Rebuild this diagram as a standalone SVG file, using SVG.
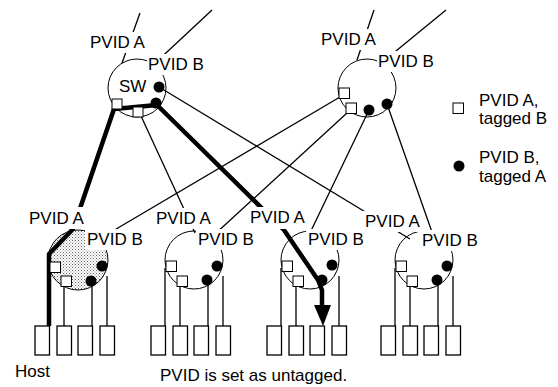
<svg xmlns="http://www.w3.org/2000/svg" width="558" height="387" viewBox="0 0 558 387">
<defs>
<pattern id="stip" width="3" height="3" patternUnits="userSpaceOnUse">
<rect width="3" height="3" fill="#fff"/>
<rect x="0" y="0" width="1" height="1" fill="#666"/>
<rect x="1.5" y="1.5" width="1" height="1" fill="#888"/>
</pattern>
<marker id="ah" viewBox="0 0 10 10" refX="10" refY="5" markerWidth="4" markerHeight="4" orient="auto" markerUnits="strokeWidth">
<path d="M0,0 L10,5 L0,10 z" fill="#000"/>
</marker>
</defs>
<style>
.sw{fill:none;stroke:#000;stroke-width:1}
.ln{fill:none;stroke:#000;stroke-width:1.3}
.tk{fill:none;stroke:#000;stroke-width:4.5;stroke-linejoin:round}
.sq{fill:#fff;stroke:#000;stroke-width:1}
.dt{fill:#000}
.hb{fill:#fff;stroke:#000;stroke-width:1.3}
.lb{fill:#fff}
text{font-family:"Liberation Sans",Arial,Helvetica,sans-serif;font-size:17px;fill:#000}
</style>
<rect width="558" height="387" fill="#fff"/>
<circle cx="78" cy="260" r="30" fill="url(#stip)"/>
<g id="connectors">
<line class="ln" x1="140" y1="13" x2="122" y2="63"/>
<line class="ln" x1="212" y1="10" x2="152" y2="66"/>
<line class="ln" x1="374" y1="10" x2="357" y2="60"/>
<line class="ln" x1="446" y1="10" x2="385" y2="60"/>
<line class="ln" x1="141" y1="116" x2="195" y2="233"/>
<line class="ln" x1="159" y1="87" x2="410" y2="239"/>
<line class="ln" x1="340" y1="97" x2="106" y2="235"/>
<line class="ln" x1="347" y1="113" x2="214" y2="235"/>
<line class="ln" x1="369" y1="110" x2="309" y2="235"/>
<line class="ln" x1="387" y1="104" x2="433" y2="235"/>
<path class="tk" d="M49,326 L49,254 L73,229 L114,109 L157,105 L284,230 L318,280 L322,290 L322,306"/>
<polygon points="314,305 331,305 323,326" fill="#000"/>
</g>
<g id="sw-top-left">
<circle class="sw" cx="137" cy="88" r="29"/>
<rect class="sq" x="112" y="99" width="10" height="10"/>
<rect class="sq" x="133" y="107" width="10" height="10"/>
<circle class="dt" cx="159" cy="87" r="5.5"/>
<circle class="dt" cx="156" cy="103" r="5.5"/>
<rect class="lb" x="88" y="32" width="62" height="21"/>
<text x="90" y="48">PVID A</text>
<rect class="lb" x="147" y="54" width="60" height="21"/>
<text x="148" y="70">PVID B</text>
<text x="119" y="92">SW</text>
</g>
<g id="sw-top-right">
<circle class="sw" cx="367" cy="88" r="29"/>
<rect class="sq" x="339" y="88" width="10.5" height="10.5"/>
<rect class="sq" x="346" y="103" width="10.5" height="10.5"/>
<circle class="dt" cx="369" cy="110" r="5.5"/>
<circle class="dt" cx="387" cy="104" r="5.5"/>
<rect class="lb" x="319" y="29" width="61" height="21"/>
<text x="321" y="45">PVID A</text>
<rect class="lb" x="377" y="51" width="60" height="21"/>
<text x="378" y="67">PVID B</text>
</g>
<g id="sw1">
<circle class="sw" cx="78" cy="260" r="30"/>
<line class="ln" x1="64" y1="286" x2="64" y2="326"/>
<line class="ln" x1="92" y1="281" x2="92" y2="326"/>
<line class="ln" x1="107" y1="276" x2="107" y2="326"/>
<rect class="sq" x="50" y="262" width="10.5" height="10.5"/>
<rect class="sq" x="61" y="276" width="10.5" height="10.5"/>
<circle class="dt" cx="102" cy="266" r="5.5"/>
<circle class="dt" cx="91" cy="281" r="5.5"/>
<rect class="hb" x="35" y="326" width="14.5" height="29"/>
<rect class="hb" x="57" y="326" width="14.5" height="29"/>
<rect class="hb" x="78" y="326" width="14.5" height="29"/>
<rect class="hb" x="100" y="326" width="14.5" height="29"/>
<rect class="lb" x="27" y="207" width="61" height="22"/>
<text x="29" y="224">PVID A</text>
<rect class="lb" x="85" y="229" width="61" height="21"/>
<text x="87" y="245">PVID B</text>
</g>
<g id="sw2">
<circle class="sw" cx="194" cy="260" r="29"/>
<line class="ln" x1="165" y1="268" x2="165" y2="326"/>
<line class="ln" x1="180" y1="286" x2="180" y2="326"/>
<line class="ln" x1="208" y1="281" x2="208" y2="326"/>
<line class="ln" x1="223" y1="276" x2="223" y2="326"/>
<rect class="sq" x="166" y="261" width="10.5" height="10.5"/>
<rect class="sq" x="177" y="276" width="10.5" height="10.5"/>
<circle class="dt" cx="217" cy="266" r="5.5"/>
<circle class="dt" cx="207" cy="280" r="5.5"/>
<rect class="hb" x="151" y="326" width="14.5" height="29"/>
<rect class="hb" x="173" y="326" width="14.5" height="29"/>
<rect class="hb" x="194" y="326" width="14.5" height="29"/>
<rect class="hb" x="216" y="326" width="14.5" height="29"/>
<rect class="lb" x="154" y="208" width="61" height="21"/>
<text x="156" y="224">PVID A</text>
<rect class="lb" x="196" y="229" width="62" height="21"/>
<text x="198" y="245">PVID B</text>
</g>
<g id="sw3">
<circle class="sw" cx="310" cy="260" r="29"/>
<line class="ln" x1="281" y1="268" x2="281" y2="326"/>
<line class="ln" x1="296" y1="286" x2="296" y2="326"/>
<line class="ln" x1="339" y1="276" x2="339" y2="326"/>
<rect class="sq" x="282" y="261" width="10.5" height="10.5"/>
<rect class="sq" x="293" y="276" width="10.5" height="10.5"/>
<circle class="dt" cx="332" cy="265" r="5.5"/>
<circle class="dt" cx="322" cy="280" r="5.5"/>
<rect class="hb" x="267" y="326" width="14.5" height="29"/>
<rect class="hb" x="289" y="326" width="14.5" height="29"/>
<rect class="hb" x="310" y="326" width="14.5" height="29"/>
<rect class="hb" x="332" y="326" width="14.5" height="29"/>
<rect class="lb" x="248" y="207" width="61" height="22"/>
<text x="250" y="223">PVID A</text>
<rect class="lb" x="306" y="229" width="60" height="21"/>
<text x="308" y="245">PVID B</text>
</g>
<g id="sw4">
<circle class="sw" cx="424" cy="260" r="29"/>
<line class="ln" x1="395" y1="268" x2="395" y2="326"/>
<line class="ln" x1="410" y1="286" x2="410" y2="326"/>
<line class="ln" x1="438" y1="281" x2="438" y2="326"/>
<line class="ln" x1="453" y1="276" x2="453" y2="326"/>
<rect class="sq" x="396" y="261" width="10.5" height="10.5"/>
<rect class="sq" x="407" y="276" width="10.5" height="10.5"/>
<circle class="dt" cx="447" cy="266" r="5.5"/>
<circle class="dt" cx="437" cy="280" r="5.5"/>
<rect class="hb" x="381" y="326" width="14.5" height="29"/>
<rect class="hb" x="403" y="326" width="14.5" height="29"/>
<rect class="hb" x="424" y="326" width="14.5" height="29"/>
<rect class="hb" x="446" y="326" width="14.5" height="29"/>
<rect class="lb" x="363" y="211" width="60" height="21"/>
<text x="365" y="227">PVID A</text>
<rect class="lb" x="420" y="230" width="60" height="21"/>
<text x="422" y="246">PVID B</text>
</g>
<g id="legend">
<rect class="sq" x="453" y="103" width="10.5" height="10.5"/>
<text x="479" y="106">PVID A,</text>
<text x="479" y="124">tagged B</text>
<circle class="dt" cx="459" cy="166" r="5.5"/>
<text x="479" y="163">PVID B,</text>
<text x="479" y="182">tagged A</text>
</g>
<g id="captions">
<text x="15" y="377">Host</text>
<text x="160" y="381">PVID is set as untagged.</text>
</g>
</svg>
